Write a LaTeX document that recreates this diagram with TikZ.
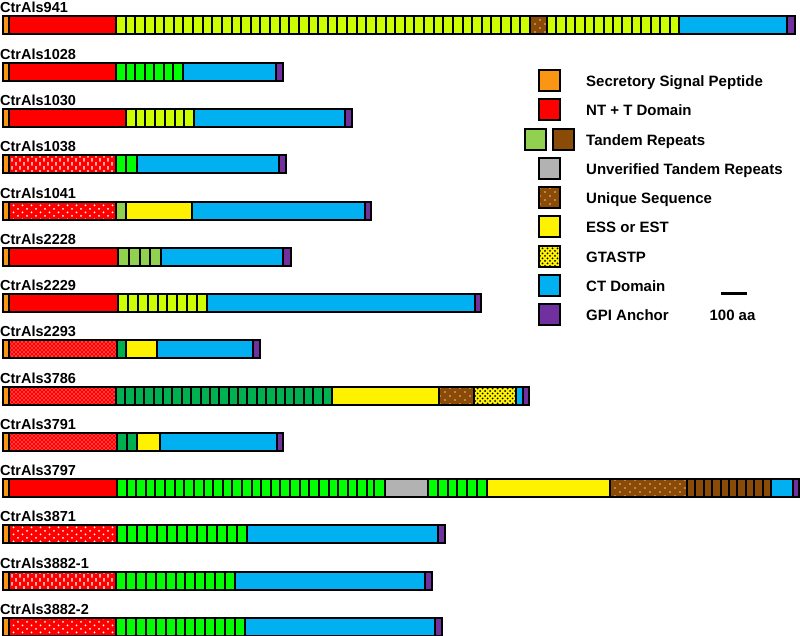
\documentclass[tikz,border=0pt]{standalone}
\usepackage{fontspec}
\setmainfont{Liberation Sans}
\usetikzlibrary{patterns}

\definecolor{sigc}{RGB}{250,150,20}
\definecolor{lgrc}{RGB}{204,255,0}
\definecolor{mgrc}{RGB}{146,208,80}
\definecolor{bgrc}{RGB}{0,255,0}
\definecolor{dgrc}{RGB}{0,176,80}
\definecolor{brnc}{RGB}{138,74,8}
\definecolor{tanc}{RGB}{250,190,120}
\definecolor{gryc}{RGB}{178,178,178}
\definecolor{ctc}{RGB}{0,176,240}
\definecolor{gpic}{RGB}{112,48,160}

%% fill patterns
\pgfdeclarepatternformonly{finedots}{\pgfqpoint{-1pt}{-1pt}}{\pgfqpoint{3pt}{3pt}}{\pgfqpoint{4pt}{4pt}}{%
\pgfpathcircle{\pgfqpoint{0pt}{0pt}}{.65pt}%
\pgfpathcircle{\pgfqpoint{2pt}{2pt}}{.65pt}%
\pgfusepath{fill}}
\pgfdeclarepatternformonly{sparsedots}{\pgfqpoint{-1.2pt}{-1.2pt}}{\pgfqpoint{5.7pt}{4.7pt}}{\pgfqpoint{9pt}{7pt}}{%
\pgfpathcircle{\pgfqpoint{0pt}{0pt}}{1pt}%
\pgfpathcircle{\pgfqpoint{4.5pt}{3.5pt}}{1pt}%
\pgfusepath{fill}}
\pgfdeclarepatternformonly{vdashes}{\pgfqpoint{-1pt}{-2pt}}{\pgfqpoint{5pt}{6pt}}{\pgfqpoint{8pt}{8pt}}{%
\pgfpathrectangle{\pgfqpoint{-.7pt}{-1.75pt}}{\pgfqpoint{1.4pt}{3.5pt}}%
\pgfpathrectangle{\pgfqpoint{3.3pt}{2.25pt}}{\pgfqpoint{1.4pt}{3.5pt}}%
\pgfusepath{fill}}
\pgfdeclarepatternformonly{uniqdots}{\pgfqpoint{-1pt}{-1pt}}{\pgfqpoint{6pt}{5pt}}{\pgfqpoint{10pt}{8pt}}{%
\pgfpathcircle{\pgfqpoint{0pt}{0pt}}{.9pt}%
\pgfpathcircle{\pgfqpoint{5pt}{4pt}}{.9pt}%
\pgfusepath{fill}}
\pgfdeclarepatternformonly{gtadots}{\pgfqpoint{-1.2pt}{-1.2pt}}{\pgfqpoint{3.7pt}{3.7pt}}{\pgfqpoint{5pt}{5pt}}{%
\pgfpathcircle{\pgfqpoint{0pt}{0pt}}{1pt}%
\pgfpathcircle{\pgfqpoint{2.5pt}{2.5pt}}{1pt}%
\pgfusepath{fill}}

\begin{document}
\begin{tikzpicture}[x=1pt,y=-1pt,
seg/.style={%
draw,
line width=2pt,
inner sep=0pt,
outer sep=0pt,
anchor=west,
minimum height=18pt
},
sig/.style={seg,fill=sigc,minimum width=6pt},
ntt/.style={seg,fill=red},
nttdash/.style={seg,preaction={fill=red},pattern=vdashes,pattern color=white},
nttdot/.style={seg,preaction={fill=red},pattern=sparsedots,pattern color=white},
nttfine/.style={seg,preaction={fill=red},pattern=finedots,pattern color=white},
lgr/.style={seg,fill=lgrc},
mgr/.style={seg,fill=mgrc},
bgr/.style={seg,fill=bgrc},
dgr/.style={seg,fill=dgrc},
brn/.style={seg,fill=brnc},
gry/.style={seg,fill=gryc},
uni/.style={seg,preaction={fill=brnc},pattern=uniqdots,pattern color=tanc},
ess/.style={seg,fill=yellow},
gta/.style={seg,preaction={fill=yellow},pattern=gtadots,pattern color=black},
ct/.style={seg,fill=ctc},
gpi/.style={seg,fill=gpic},
tag/.style={%
anchor=base west,
inner sep=0pt,
font=\fontsize{14.5}{16}\selectfont\bfseries
},
key/.style={%
draw,
line width=2pt,
minimum size=21pt,
inner sep=0pt
},
keytext/.style={%
anchor=base west,
inner sep=0pt,
font=\fontsize{15}{18}\selectfont\bfseries
},
]
\useasboundingbox (0,0) rectangle (800,636);
%% CtrAls941
\begin{scope}[shift={(0,25)}]
\node[tag](l941)at(0,-12.3){CtrAls941};
\node[sig](s941)at(3,0){};
\node[ntt,minimum width=107pt](nt941)at(9,0){};
\foreach \i in {0,...,42}{%
\pgfmathsetmacro\segx{round(116+\i*9.628)}%
\pgfmathsetmacro\segw{round(116+(\i+1)*9.628)-\segx}%
\node[lgr,minimum width=\segw pt](tr941-\i)at(\segx,0){};
}
\node[uni,minimum width=17pt](u941)at(530,0){};
\foreach \i in {0,...,13}{%
\pgfmathsetmacro\segx{round(547+\i*9.4286)}%
\pgfmathsetmacro\segw{round(547+(\i+1)*9.4286)-\segx}%
\node[lgr,minimum width=\segw pt](tb941-\i)at(\segx,0){};
}
\node[ct,minimum width=108pt](ct941)at(679,0){};
\node[gpi,minimum width=8pt](g941)at(787,0){};
\end{scope}
%% CtrAls1028
\begin{scope}[shift={(0,72)}]
\node[tag](l1028)at(0,-12.3){CtrAls1028};
\node[sig](s1028)at(3,0){};
\node[ntt,minimum width=107pt](nt1028)at(9,0){};
\foreach \i in {0,...,6}{%
\pgfmathsetmacro\segx{round(116+\i*9.571)}%
\pgfmathsetmacro\segw{round(116+(\i+1)*9.571)-\segx}%
\node[bgr,minimum width=\segw pt](tr1028-\i)at(\segx,0){};
}
\node[ct,minimum width=93pt](ct1028)at(183,0){};
\node[gpi,minimum width=7pt](g1028)at(276,0){};
\end{scope}
%% CtrAls1030
\begin{scope}[shift={(0,118)}]
\node[tag](l1030)at(0,-12.3){CtrAls1030};
\node[sig](s1030)at(3,0){};
\node[ntt,minimum width=117pt](nt1030)at(9,0){};
\foreach \i in {0,...,6}{%
\pgfmathsetmacro\segx{round(126+\i*9.714)}%
\pgfmathsetmacro\segw{round(126+(\i+1)*9.714)-\segx}%
\node[lgr,minimum width=\segw pt](tr1030-\i)at(\segx,0){};
}
\node[ct,minimum width=151pt](ct1030)at(194,0){};
\node[gpi,minimum width=7pt](g1030)at(345,0){};
\end{scope}
%% CtrAls1038
\begin{scope}[shift={(0,164)}]
\node[tag](l1038)at(0,-12.3){CtrAls1038};
\node[sig](s1038)at(3,0){};
\node[nttdash,minimum width=107pt](nt1038)at(9,0){};
\node[bgr,minimum width=10pt](tr1038-0)at(116,0){};
\node[bgr,minimum width=11pt](tr1038-1)at(126,0){};
\node[ct,minimum width=142pt](ct1038)at(137,0){};
\node[gpi,minimum width=7pt](g1038)at(279,0){};
\end{scope}
%% CtrAls1041
\begin{scope}[shift={(0,211)}]
\node[tag](l1041)at(0,-12.3){CtrAls1041};
\node[sig](s1041)at(3,0){};
\node[nttdot,minimum width=107pt](nt1041)at(9,0){};
\node[mgr,minimum width=10pt](tr1041)at(116,0){};
\node[ess,minimum width=66pt](e1041)at(126,0){};
\node[ct,minimum width=173pt](ct1041)at(192,0){};
\node[gpi,minimum width=6pt](g1041)at(365,0){};
\end{scope}
%% CtrAls2228
\begin{scope}[shift={(0,257)}]
\node[tag](l2228)at(0,-12.3){CtrAls2228};
\node[sig](s2228)at(3,0){};
\node[ntt,minimum width=109pt](nt2228)at(9,0){};
\foreach \i in {0,...,3}{%
\pgfmathsetmacro\segx{round(118+\i*10.75)}%
\pgfmathsetmacro\segw{round(118+(\i+1)*10.75)-\segx}%
\node[mgr,minimum width=\segw pt](tr2228-\i)at(\segx,0){};
}
\node[ct,minimum width=122pt](ct2228)at(161,0){};
\node[gpi,minimum width=8pt](g2228)at(283,0){};
\end{scope}
%% CtrAls2229
\begin{scope}[shift={(0,303)}]
\node[tag](l2229)at(0,-12.3){CtrAls2229};
\node[sig](s2229)at(3,0){};
\node[ntt,minimum width=109pt](nt2229)at(9,0){};
\foreach \i in {0,...,8}{%
\pgfmathsetmacro\segx{round(118+\i*9.889)}%
\pgfmathsetmacro\segw{round(118+(\i+1)*9.889)-\segx}%
\node[lgr,minimum width=\segw pt](tr2229-\i)at(\segx,0){};
}
\node[ct,minimum width=268pt](ct2229)at(207,0){};
\node[gpi,minimum width=6pt](g2229)at(475,0){};
\end{scope}
%% CtrAls2293
\begin{scope}[shift={(0,349)}]
\node[tag](l2293)at(0,-12.3){CtrAls2293};
\node[sig](s2293)at(3,0){};
\node[nttfine,minimum width=108pt](nt2293)at(9,0){};
\node[dgr,minimum width=9pt](tr2293)at(117,0){};
\node[ess,minimum width=31pt](e2293)at(126,0){};
\node[ct,minimum width=96pt](ct2293)at(157,0){};
\node[gpi,minimum width=7pt](g2293)at(253,0){};
\end{scope}
%% CtrAls3786
\begin{scope}[shift={(0,396)}]
\node[tag](l3786)at(0,-12.3){CtrAls3786};
\node[sig](s3786)at(3,0){};
\node[nttfine,minimum width=107pt](nt3786)at(9,0){};
\foreach \i in {0,...,22}{%
\pgfmathsetmacro\segx{round(116+\i*9.391)}%
\pgfmathsetmacro\segw{round(116+(\i+1)*9.391)-\segx}%
\node[dgr,minimum width=\segw pt](tr3786-\i)at(\segx,0){};
}
\node[ess,minimum width=107pt](e3786)at(332,0){};
\node[uni,minimum width=35pt](u3786)at(439,0){};
\node[gta,minimum width=42pt](gt3786)at(474,0){};
\node[ct,minimum width=7pt](ct3786)at(516,0){};
\node[gpi,minimum width=6pt](g3786)at(523,0){};
\end{scope}
%% CtrAls3791
\begin{scope}[shift={(0,442)}]
\node[tag](l3791)at(0,-12.3){CtrAls3791};
\node[sig](s3791)at(3,0){};
\node[nttfine,minimum width=108pt](nt3791)at(9,0){};
\node[dgr,minimum width=10pt](tr3791-0)at(117,0){};
\node[dgr,minimum width=10pt](tr3791-1)at(127,0){};
\node[ess,minimum width=23pt](e3791)at(137,0){};
\node[ct,minimum width=117pt](ct3791)at(160,0){};
\node[gpi,minimum width=6pt](g3791)at(277,0){};
\end{scope}
%% CtrAls3797
\begin{scope}[shift={(0,488)}]
\node[tag](l3797)at(0,-12.3){CtrAls3797};
\node[sig](s3797)at(3,0){};
\node[ntt,minimum width=108pt](nt3797)at(9,0){};
\foreach \i in {0,...,25}{%
\pgfmathsetmacro\segx{round(117+\i*9.615)}%
\pgfmathsetmacro\segw{round(117+(\i+1)*9.615)-\segx}%
\node[bgr,minimum width=\segw pt](tr3797-\i)at(\segx,0){};
}
\node[bgr,minimum width=7pt](tn3797)at(367,0){};
\node[bgr,minimum width=11pt](tl3797)at(374,0){};
\node[gry,minimum width=43pt](gr3797)at(385,0){};
\foreach \i in {0,...,5}{%
\pgfmathsetmacro\segx{round(428+\i*9.833)}%
\pgfmathsetmacro\segw{round(428+(\i+1)*9.833)-\segx}%
\node[bgr,minimum width=\segw pt](tb3797-\i)at(\segx,0){};
}
\node[ess,minimum width=123pt](e3797)at(487,0){};
\node[uni,minimum width=77pt](u3797)at(610,0){};
\foreach \i in {0,...,9}{%
\pgfmathsetmacro\segx{round(687+\i*8.4)}%
\pgfmathsetmacro\segw{round(687+(\i+1)*8.4)-\segx}%
\node[brn,minimum width=\segw pt](bn3797-\i)at(\segx,0){};
}
\node[ct,minimum width=22pt](ct3797)at(771,0){};
\node[gpi,minimum width=6pt](g3797)at(793,0){};
\end{scope}
%% CtrAls3871
\begin{scope}[shift={(0,534)}]
\node[tag](l3871)at(0,-12.3){CtrAls3871};
\node[sig](s3871)at(3,0){};
\node[nttdot,minimum width=108pt](nt3871)at(9,0){};
\foreach \i in {0,...,12}{%
\node[bgr,minimum width=10pt](tr3871-\i)at({117+\i*10},0){};
}
\node[ct,minimum width=191pt](ct3871)at(247,0){};
\node[gpi,minimum width=7pt](g3871)at(438,0){};
\end{scope}
%% CtrAls3882-1
\begin{scope}[shift={(0,581)}]
\node[tag](l3882a)at(0,-12.3){CtrAls3882-1};
\node[sig](s3882a)at(3,0){};
\node[nttdash,minimum width=107pt](nt3882a)at(9,0){};
\foreach \i in {0,...,11}{%
\pgfmathsetmacro\segx{round(116+\i*9.917)}%
\pgfmathsetmacro\segw{round(116+(\i+1)*9.917)-\segx}%
\node[bgr,minimum width=\segw pt](tr3882a-\i)at(\segx,0){};
}
\node[ct,minimum width=190pt](ct3882a)at(235,0){};
\node[gpi,minimum width=7pt](g3882a)at(425,0){};
\end{scope}
%% CtrAls3882-2
\begin{scope}[shift={(0,627)}]
\node[tag](l3882b)at(0,-12.3){CtrAls3882-2};
\node[sig](s3882b)at(3,0){};
\node[nttdot,minimum width=107pt](nt3882b)at(9,0){};
\foreach \i in {0,...,12}{%
\pgfmathsetmacro\segx{round(116+\i*9.923)}%
\pgfmathsetmacro\segw{round(116+(\i+1)*9.923)-\segx}%
\node[bgr,minimum width=\segw pt](tr3882b-\i)at(\segx,0){};
}
\node[ct,minimum width=190pt](ct3882b)at(245,0){};
\node[gpi,minimum width=7pt](g3882b)at(435,0){};
\end{scope}
%% Legend
\node[key,fill=sigc](k1)at(549.5,80.5){};
\node[keytext](t1)at(586,86.5){Secretory Signal Peptide};
\node[key,fill=red](k2)at(549.5,109.8){};
\node[keytext](t2)at(586,115.8){NT + T Domain};
\node[key,fill=mgrc](k3a)at(535.5,139.1){};
\node[key,fill=brnc](k3b)at(563.5,139.1){};
\node[keytext](t3)at(586,145.1){Tandem Repeats};
\node[key,fill=gryc](k4)at(549.5,168.4){};
\node[keytext](t4)at(586,174.4){Unverified Tandem Repeats};
\node[key,preaction={fill=brnc},pattern=uniqdots,pattern color=tanc](k5)at(549.5,197.7){};
\node[keytext](t5)at(586,203.7){Unique Sequence};
\node[key,fill=yellow](k6)at(549.5,227){};
\node[keytext](t6)at(586,233){ESS or EST};
\node[key,preaction={fill=yellow},pattern=gtadots,pattern color=black](k7)at(549.5,256.3){};
\node[keytext](t7)at(586,262.3){GTASTP};
\node[key,fill=ctc](k8)at(549.5,285.6){};
\node[keytext](t8)at(586,291.6){CT Domain};
\node[key,fill=gpic](k9)at(549.5,314.9){};
\node[keytext](t9)at(586,320.9){GPI Anchor};
%% Scale bar
\coordinate (sb1) at (721,293);
\coordinate (sb2) at (747,293);
\draw[line width=3pt] (sb1)--(sb2);
\node[keytext,anchor=base](sbt)at(732.5,320){100 aa};
\end{tikzpicture}
\end{document}
